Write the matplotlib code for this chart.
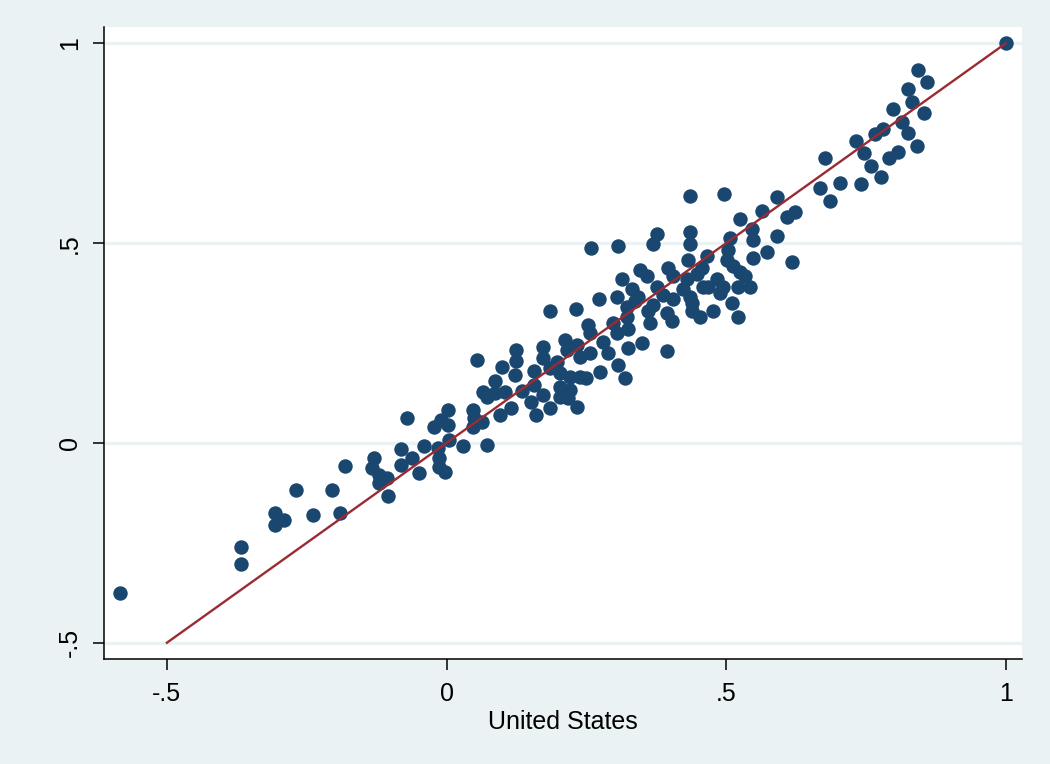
import matplotlib
matplotlib.use("Agg")
import matplotlib.pyplot as plt

plt.rcParams["font.family"] = ["Liberation Sans", "DejaVu Sans"]

# values (United States vs. other series)
us_x = [
    -0.584, -0.367, -0.367, -0.307, -0.307, -0.290, -0.270, -0.238, -0.204, -0.190,
    -0.182, -0.129, -0.133, -0.120, -0.115, -0.106, -0.120, -0.104, -0.082, -0.082,
    -0.070, -0.061, -0.050, -0.041, -0.022, -0.016, -0.014, -0.014, -0.002, -0.009,
    0.002, 0.002, 0.004, 0.029, 0.054, 0.047, 0.050, 0.047, 0.063, 0.066,
    0.073, 0.072, 0.086, 0.087, 0.095, 0.104, 0.100, 0.116, 0.123, 0.124,
    0.125, 0.135, 0.151, 0.160, 0.157, 0.157, 0.172, 0.172, 0.172, 0.185,
    0.185, 0.185, 0.197, 0.203, 0.203, 0.203, 0.211, 0.215, 0.217, 0.220,
    0.220, 0.232, 0.233, 0.233, 0.238, 0.238, 0.250, 0.253, 0.256, 0.256,
    0.258, 0.274, 0.272, 0.280, 0.289, 0.298, 0.305, 0.306, 0.306, 0.305,
    0.319, 0.314, 0.324, 0.324, 0.323, 0.337, 0.332, 0.346, 0.350, 0.394,
    0.323,
    0.435, 0.496, 0.591, 0.565, 0.624, 0.609, 0.525, 0.547, 0.548, 0.591,
    0.376, 0.369, 0.435, 0.435, 0.507, 0.504, 0.573, 0.548, 0.618, 0.466,
    0.432, 0.502, 0.396, 0.457, 0.513, 0.525, 0.534, 0.358, 0.448, 0.484,
    0.495, 0.430, 0.405, 0.376, 0.387, 0.423, 0.435, 0.468, 0.522, 0.543,
    0.489, 0.342, 0.369, 0.405, 0.439, 0.459, 0.360, 0.394, 0.439, 0.453,
    0.477, 0.511, 0.522, 0.364, 0.403,
    0.668, 0.676, 0.686, 0.703, 0.733, 0.742, 0.747, 0.759, 0.767, 0.777,
    0.781, 0.792, 0.799, 0.808, 0.815, 0.825, 0.826, 0.833, 0.842, 0.843,
    0.853, 0.860, 1.000,
]
other_y = [
    -0.375, -0.261, -0.304, -0.176, -0.205, -0.193, -0.118, -0.181, -0.118, -0.176,
    -0.057, -0.037, -0.063, -0.080, -0.093, -0.088, -0.100, -0.134, -0.015, -0.055,
    0.062, -0.038, -0.075, -0.008, 0.041, -0.013, -0.038, -0.060, -0.073, 0.058,
    0.083, 0.045, 0.008, -0.008, 0.208, 0.083, 0.063, 0.040, 0.053, 0.128,
    -0.005, 0.115, 0.125, 0.155, 0.070, 0.128, 0.190, 0.088, 0.170, 0.205,
    0.233, 0.130, 0.103, 0.069, 0.180, 0.146, 0.241, 0.213, 0.120, 0.330,
    0.188, 0.088, 0.203, 0.175, 0.141, 0.116, 0.258, 0.233, 0.113, 0.166,
    0.133, 0.336, 0.246, 0.090, 0.216, 0.166, 0.163, 0.296, 0.276, 0.226,
    0.487, 0.178, 0.359, 0.253, 0.226, 0.300, 0.276, 0.196, 0.493, 0.364,
    0.163, 0.411, 0.284, 0.238, 0.341, 0.354, 0.385, 0.434, 0.249, 0.231,
    0.316,
    0.617, 0.622, 0.615, 0.580, 0.577, 0.565, 0.560, 0.535, 0.509, 0.517,
    0.522, 0.497, 0.527, 0.497, 0.514, 0.484, 0.477, 0.464, 0.454, 0.467,
    0.459, 0.459, 0.439, 0.439, 0.442, 0.427, 0.417, 0.417, 0.422, 0.409,
    0.391, 0.409, 0.417, 0.391, 0.371, 0.384, 0.366, 0.391, 0.391, 0.389,
    0.376, 0.364, 0.346, 0.359, 0.351, 0.391, 0.329, 0.326, 0.329, 0.316,
    0.329, 0.351, 0.316, 0.301, 0.304,
    0.638, 0.712, 0.606, 0.651, 0.755, 0.647, 0.725, 0.693, 0.773, 0.665,
    0.785, 0.713, 0.836, 0.727, 0.804, 0.885, 0.775, 0.852, 0.744, 0.933,
    0.826, 0.903, 1.000,
]

# 45-degree reference line
line_x = [-0.5, 1.0]
line_y = [-0.5, 1.0]

ticks = [-0.5, 0, 0.5, 1]
tick_labels = ["-.5", "0", ".5", "1"]

bg = "#EAF2F3"
navy = "#1A476F"
maroon = "#9A2B32"

fig = plt.figure(figsize=(10.5, 7.64), dpi=100, facecolor=bg)
ax = fig.add_axes([0.0993, 0.137, 0.874, 0.828])
ax.set_facecolor("white")

for t in ticks:
    ax.axhline(t, color=bg, lw=2.4, zorder=1)

ax.plot(us_x, other_y, "o", color=navy, ms=10.4, mec="none", zorder=3)
ax.plot(line_x, line_y, color=maroon, lw=1.7, zorder=4)

ax.set_xlim(-0.612, 1.029)
ax.set_ylim(-0.5415, 1.0415)

for side in ["top", "right"]:
    ax.spines[side].set_visible(False)
for side in ["left", "bottom"]:
    ax.spines[side].set_linewidth(1.1)

ax.set_xticks(ticks)
ax.set_xticklabels(tick_labels)
ax.set_yticks(ticks)
ax.set_yticklabels(tick_labels, rotation=90, va="center")
ax.tick_params(direction="out", length=8, width=1.1, labelsize=18, pad=8)

ax.set_xlabel("United States", fontsize=18, labelpad=3)

fig.savefig("out.png", dpi=100, facecolor=bg)
